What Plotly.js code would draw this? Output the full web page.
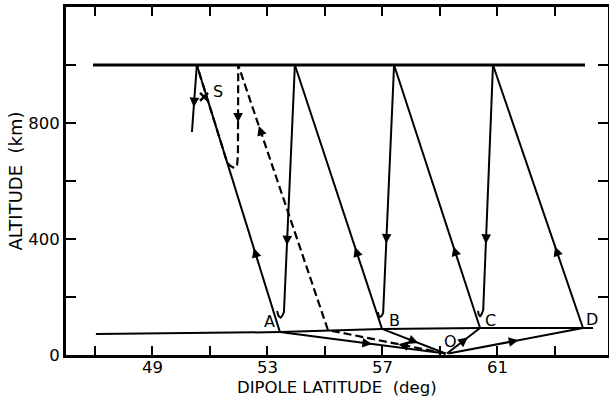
<!DOCTYPE html>
<html>
<head>
<meta charset="utf-8">
<script src="https://cdn.plot.ly/plotly-3.0.1.min.js"></script>
<style>html,body{margin:0;padding:0;background:#fff;}#chart{width:609px;height:398px;}</style>
</head>
<body>
<div id="chart"></div>
<script>
// ---- data (dipole latitude in deg, altitude in km) ----
const topLat = [46.94, 64.05];
const topAlt = [1000, 1000];
const groundLat = [47.04, 53.44, 56.99, 60.40, 63.98, 64.33];
const groundAlt = [72, 79, 90, 93, 93, 93];

const rayALat = [53.44, 50.55];  const rayAAlt = [79, 1000];
const rayBLat = [56.99, 53.96];  const rayBAlt = [90, 1000];
const rayCLat = [60.40, 57.41];  const rayCAlt = [93, 1000];
const rayDLat = [63.98, 60.85];  const rayDAlt = [93, 1000];

const drop1Lat = [50.55, 50.38]; const drop1Alt = [1000, 769];
const drop2Lat = [53.96, 53.58, 53.52, 53.46, 53.39, 53.34]; const drop2Alt = [1000, 148, 135, 129, 135, 152];
const drop3Lat = [57.41, 57.03, 56.97, 56.92, 56.87, 56.85]; const drop3Alt = [1000, 145, 134, 131, 137, 148];
const drop4Lat = [60.85, 60.51, 60.45, 60.40, 60.35, 60.33]; const drop4Alt = [1000, 155, 140, 134, 140, 152];

const aoLat = [53.44, 59.20]; const aoAlt = [79, 5];
const boLat = [56.99, 59.20]; const boAlt = [90, 5];
const ocLat = [59.25, 60.40]; const ocAlt = [5, 93];
const odLat = [59.30, 63.98]; const odAlt = [5, 93];

const dashLat = [59.20, 55.11, 51.99, 51.98, 51.95, 51.85, 51.72, 51.61, 50.55];
const dashAlt = [5, 86, 1000, 690, 655, 645, 652, 662, 1000];

const sLat = [50.80]; const sAlt = [890];

const labelText = ['A', 'B', 'C', 'D', 'O', 'S'];
const labelLat = [53.08, 57.41, 60.76, 64.28, 59.37, 51.27];
const labelAlt = [114, 119, 119, 122, 45, 907];

const xTickVals = [47, 49, 51, 53, 55, 57, 59, 61, 63];
const xLabelVals = [49, 53, 57, 61];
const xLabelText = ['49', '53', '57', '61'];
const yTickVals = [0, 200, 400, 600, 800, 1000];
const yTickText = ['0', '', '400', '', '800', ''];
const xTitle = 'DIPOLE LATITUDE  (deg)';
const yTitle = 'ALTITUDE  (km)';

// arrowheads: [path name, segment index, fraction along segment]
const arrowSpecs = [
  ['rayA', 0, 0.315], ['drop1', 0, 0.63], ['drop2', 0, 0.73], ['rayB', 0, 0.31],
  ['drop3', 0, 0.72], ['rayC', 0, 0.31], ['drop4', 0, 0.73], ['rayD', 0, 0.31],
  ['dash', 2, 0.64], ['dash', 1, 0.77], ['dash', 0, 0.40],
  ['ao', 0, 0.556], ['bo', 0, 0.57], ['oc', 0, 0.63], ['od', 0, 0.52]
];

const paths = {
  rayA: [rayALat, rayAAlt], rayB: [rayBLat, rayBAlt], rayC: [rayCLat, rayCAlt], rayD: [rayDLat, rayDAlt],
  drop1: [drop1Lat, drop1Alt], drop2: [drop2Lat, drop2Alt], drop3: [drop3Lat, drop3Alt], drop4: [drop4Lat, drop4Alt],
  ao: [aoLat, aoAlt], bo: [boLat, boAlt], oc: [ocLat, ocAlt], od: [odLat, odAlt], dash: [dashLat, dashAlt]
};

// ---- layout geometry ----
const W = 609, H = 398;
const margin = {l: 66, r: 1, t: 7, b: 43};
const xRange = [46, 64.85];
const yRange = [0, 1200];
const pxPerDeg = (W - margin.l - margin.r) / (xRange[1] - xRange[0]);
const pxPerKm = (H - margin.t - margin.b) / (yRange[1] - yRange[0]);

// ---- traces ----
function line(x, y, w, dash) {
  return {x: x, y: y, type: 'scatter', mode: 'lines', hoverinfo: 'skip',
          line: {color: '#000', width: w, dash: dash || 'solid'}, showlegend: false};
}
const traces = [
  line(topLat, topAlt, 3),
  line(groundLat, groundAlt, 2),
  line(rayALat, rayAAlt, 2), line(rayBLat, rayBAlt, 2), line(rayCLat, rayCAlt, 2), line(rayDLat, rayDAlt, 2),
  line(drop1Lat, drop1Alt, 2), line(drop2Lat, drop2Alt, 2), line(drop3Lat, drop3Alt, 2), line(drop4Lat, drop4Alt, 2),
  line(aoLat, aoAlt, 2), line(boLat, boAlt, 2), line(ocLat, ocAlt, 2), line(odLat, odAlt, 2),
  line(dashLat, dashAlt, 2.2, '8px,4px'),
  {x: sLat, y: sAlt, type: 'scatter', mode: 'markers', hoverinfo: 'skip', showlegend: false,
   marker: {symbol: 'x-thin', size: 8, line: {color: '#000', width: 2.5}}}
];

// ---- annotations ----
const textFont = {family: 'DejaVu Sans', size: 16.5, color: '#000'};
const annotations = [{
  x: 0.5, y: 0, xref: 'paper', yref: 'paper', xanchor: 'center', yanchor: 'top',
  yshift: -22, text: xTitle, showarrow: false, font: textFont, borderpad: 0
}];
xLabelVals.forEach((v, i) => annotations.push({
  x: v, y: 0, xref: 'x', yref: 'paper', xanchor: 'center', yanchor: 'top',
  yshift: -2, text: xLabelText[i], showarrow: false, font: textFont, borderpad: 0
}));
labelText.forEach((t, i) => annotations.push({
  x: labelLat[i], y: labelAlt[i], xref: 'x', yref: 'y', text: t, showarrow: false,
  font: {family: 'DejaVu Sans', size: 16, color: '#000'}
}));
arrowSpecs.forEach(([name, seg, f]) => {
  const [px, py] = paths[name];
  const x0 = px[seg], y0 = py[seg], x1 = px[seg + 1], y1 = py[seg + 1];
  const tx = x0 + f * (x1 - x0), ty = y0 + f * (y1 - y0);
  const dx = (x1 - x0) * pxPerDeg, dy = -(y1 - y0) * pxPerKm;
  const len = Math.hypot(dx, dy), tail = 10;
  annotations.push({
    x: tx, y: ty, xref: 'x', yref: 'y',
    ax: -dx / len * tail, ay: -dy / len * tail,
    text: '', showarrow: true, arrowhead: 2, arrowsize: 1.2, arrowwidth: 1.6,
    arrowcolor: '#000', standoff: 0, startstandoff: 0
  });
});

const layout = {
  width: W, height: H,
  margin: margin,
  paper_bgcolor: '#fff', plot_bgcolor: '#fff',
  font: textFont,
  showlegend: false,
  xaxis: {
    range: xRange, tickmode: 'array', tickvals: xTickVals, showticklabels: false,
    ticks: 'inside', ticklen: 9, tickwidth: 2, tickcolor: '#000',
    showline: true, linewidth: 3, linecolor: '#000', mirror: 'ticks',
    showgrid: false, zeroline: false,
    automargin: false, fixedrange: true
  },
  yaxis: {
    range: yRange, tickmode: 'array', tickvals: yTickVals, ticktext: yTickText,
    ticks: 'inside', ticklen: 10, tickwidth: 2, tickcolor: '#000',
    showline: true, linewidth: 3, linecolor: '#000', mirror: 'ticks',
    showgrid: false, zeroline: false, tickfont: textFont,
    title: {text: yTitle, font: {family: 'DejaVu Sans', size: 18, color: '#000'}, standoff: 1},
    automargin: false, fixedrange: true
  },
  annotations: annotations
};

Plotly.newPlot('chart', traces, layout, {staticPlot: true, displayModeBar: false});
</script>
</body>
</html>
